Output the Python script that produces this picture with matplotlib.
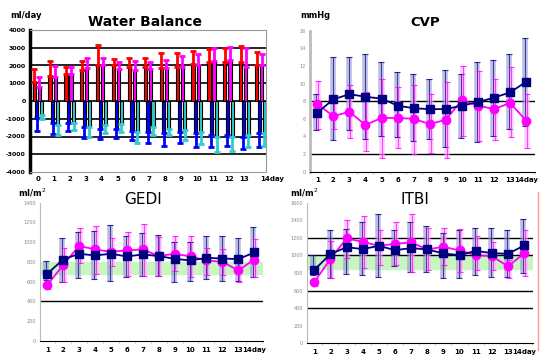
import matplotlib
matplotlib.use("Agg")
import matplotlib.pyplot as plt
import numpy as np
from matplotlib.lines import Line2D

# ---- data ----
wb_days = list(range(15))
wb_day_labels = [str(d) for d in range(14)] + ["14day"]
intake_a = [1090, 1420, 1530, 1750, 2040, 2000, 1920, 1890, 1850, 1940, 2080, 2210, 2210, 2170, 2020]
intake_a_err = [700, 830, 360, 500, 1110, 340, 530, 560, 850, 760, 710, 710, 770, 910, 730]
intake_b = [770, 1360, 1500, 1850, 2040, 1810, 1740, 1830, 1850, 1910, 2040, 2260, 2320, 1940, 2000]
intake_b_err = [610, 600, 390, 600, 410, 360, 490, 380, 470, 600, 600, 700, 700, 1020, 640]
output_a = [-980, -1260, -1230, -1450, -1550, -1550, -1680, -1740, -1830, -1740, -1830, -1920, -1920, -2020, -1830]
output_a_err = [700, 610, 470, 630, 580, 530, 510, 620, 700, 620, 750, 660, 610, 700, 750]
output_b = [-790, -1360, -1230, -1450, -1360, -1300, -1740, -1490, -1550, -1640, -1740, -2020, -2020, -1920, -1830]
output_b_err = [230, 560, 410, 570, 470, 440, 620, 430, 370, 570, 690, 870, 810, 660, 720]

days = list(range(1, 15))
day_labels = [str(d) for d in range(1, 14)] + ["14day"]

cvp_a = [6.7, 8.2, 8.8, 8.5, 8.3, 7.5, 7.2, 7.1, 7.1, 7.5, 7.9, 8.4, 9.0, 10.2]
cvp_a_hi = [8.8, 13.0, 13.0, 13.4, 12.5, 11.3, 11.1, 10.5, 11.5, 11.1, 12.4, 12.7, 13.4, 15.2]
cvp_a_lo = [4.7, 3.6, 4.7, 3.7, 4.1, 3.9, 3.5, 3.7, 2.8, 3.8, 3.4, 4.1, 4.8, 5.2]
cvp_b = [7.7, 6.3, 6.8, 5.3, 6.1, 6.1, 6.0, 5.4, 5.9, 8.1, 7.5, 7.1, 7.8, 5.8]
cvp_b_hi = [10.3, 7.8, 9.8, 9.0, 10.5, 9.6, 9.8, 8.8, 10.2, 12.0, 11.4, 10.5, 11.9, 8.8]
cvp_b_lo = [4.9, 4.8, 3.8, 2.3, 1.5, 2.7, 2.0, 2.1, 1.5, 4.1, 3.5, 3.6, 3.9, 2.7]

gedi_a = [680, 825, 883, 866, 883, 856, 876, 860, 832, 815, 842, 835, 829, 896]
gedi_a_hi = [809, 1038, 1100, 1113, 1174, 1063, 1095, 1069, 1000, 1000, 1063, 1063, 1038, 1154]
gedi_a_lo = [620, 599, 640, 629, 606, 647, 657, 663, 596, 606, 632, 612, 612, 647]
gedi_b = [565, 768, 964, 927, 903, 917, 927, 860, 883, 856, 815, 802, 714, 825]
gedi_b_hi = [600, 940, 1140, 1164, 1042, 1106, 1180, 1055, 1063, 1063, 937, 927, 790, 1035]
gedi_b_lo = [531, 596, 790, 683, 758, 657, 657, 663, 707, 647, 673, 673, 596, 647]

itbi_a = [836, 1015, 1094, 1072, 1109, 1060, 1083, 1068, 1023, 1003, 1052, 1026, 1018, 1113]
itbi_a_hi = [1000, 1291, 1300, 1375, 1469, 1290, 1386, 1330, 1250, 1291, 1310, 1310, 1291, 1420]
itbi_a_lo = [780, 740, 791, 773, 753, 880, 807, 807, 742, 742, 780, 757, 757, 800]
itbi_b = [697, 961, 1193, 1155, 1109, 1132, 1148, 1068, 1098, 1057, 1003, 992, 875, 1023]
itbi_b_hi = [740, 1166, 1404, 1443, 1290, 1375, 1469, 1310, 1310, 1297, 1216, 1151, 950, 1284]
itbi_b_lo = [650, 742, 969, 856, 886, 886, 807, 830, 886, 807, 835, 830, 742, 761]

NAVY = "#000080"
MAG = "#FF00FF"

fig = plt.figure(figsize=(5.44, 3.58), dpi=100)


def fig_rect(left, top, right, bottom):
    W, H = 544, 358
    return [left / W, 1 - bottom / H, (right - left) / W, (bottom - top) / H]


# ---- Water Balance ----
ax = fig.add_axes(fig_rect(30, 30, 266, 172))
x = np.array(wb_days)
w = 0.2
series = [
    (intake_a, intake_a_err, "#FF0000", -0.24, 1),
    (output_a, output_a_err, "#0000FF", -0.08, -1),
    (intake_b, intake_b_err, "#FF00FF", 0.08, 1),
    (output_b, output_b_err, "#33CCCC", 0.24, -1),
]
for vals, err, col, off, sign in series:
    ax.bar(x + off, vals, width=w, color=col, edgecolor="black", linewidth=0.8, zorder=3)
    if sign > 0:
        yerr = [np.zeros(len(err)), err]
    else:
        yerr = [err, np.zeros(len(err))]
    ax.errorbar(x + off, vals, yerr=yerr, fmt="none", ecolor=col, elinewidth=2,
                capsize=2.5, capthick=2, zorder=4)
ax.set_xlim(-0.5, 14.35)
ax.set_ylim(-4000, 4000)
ax.set_yticks(range(-4000, 4001, 1000))
ax.set_yticklabels([str(v) for v in range(-4000, 4001, 1000)], fontsize=4.5, fontweight="bold")
for v in range(-3000, 4000, 1000):
    ax.axhline(v, color="black", lw=1.2, zorder=1)
ax.set_xticks(x)
ax.set_xticklabels(wb_day_labels, fontsize=5, fontweight="bold")
ax.get_xticklabels()[-1].set_horizontalalignment("left")
ax.get_xticklabels()[-1].set_x(13.85)
ax.tick_params(axis="x", length=0, pad=3)
ax.tick_params(axis="y", length=0, pad=3)
ax.spines["left"].set_linewidth(2.5)
for s in ["top", "right", "bottom"]:
    ax.spines[s].set_color("#999999")
fig.text(10 / 544, 1 - 16 / 358, "ml/day", fontsize=6, fontweight="bold", va="center")
fig.text(145 / 544, 1 - 22 / 358, "Water Balance", fontsize=10, fontweight="bold",
         ha="center", va="center")


def line_panel(rect, a, a_hi, a_lo, b, b_hi, b_lo, ymax, ystep, hlines, band=None):
    ax = fig.add_axes(rect)
    xs = np.array(days)
    if band is not None:
        ax.axhspan(band[0], band[1], color="#C8F5C0", zorder=1)
    for h in hlines:
        ax.axhline(h, color="black", lw=1.0, zorder=1.5)
    for vals, hi, lo, col, pale, off in [(a, a_hi, a_lo, NAVY, "#8C8CD0", -0.05),
                                        (b, b_hi, b_lo, MAG, "#FFA8FF", 0.05)]:
        v = np.array(vals)
        yerr = [v - np.array(lo), np.array(hi) - v]
        ax.errorbar(xs + off, v, yerr=yerr, fmt="none", ecolor=pale, elinewidth=4,
                    alpha=0.6, capsize=0, zorder=2)
        ax.errorbar(xs + off, v, yerr=yerr, fmt="none", ecolor=col, elinewidth=0.6,
                    alpha=0.8, capsize=2, capthick=0.8, zorder=2.5)
    ax.plot(xs, a, color=NAVY, lw=1.3, marker="s", ms=6, zorder=4)
    ax.plot(xs, b, color=MAG, lw=1.3, marker="o", ms=6, zorder=3)
    ax.set_xlim(0.55, 14.55)
    ax.set_ylim(0, ymax)
    ticks = np.arange(0, ymax + 0.001, ystep)
    ax.set_yticks(ticks)
    ax.set_yticklabels([str(int(t)) for t in ticks], fontsize=3.5, color="#888888")
    ax.set_xticks(xs)
    ax.set_xticklabels(day_labels, fontsize=5, fontweight="bold")
    ax.set_xticks(xs + 0.5, minor=True)
    ax.tick_params(axis="x", which="major", length=0, pad=4)
    ax.tick_params(axis="x", which="minor", length=1.5, color="#BBBBBB")
    ax.tick_params(axis="y", length=0, pad=3)
    ax.spines["top"].set_visible(False)
    ax.spines["right"].set_visible(False)
    ax.spines["left"].set_color("#BBBBBB")
    ax.spines["bottom"].set_color("black")
    return ax


# ---- CVP ----
ax_cvp = line_panel(fig_rect(310, 30.7, 535, 171.7), cvp_a, cvp_a_hi, cvp_a_lo,
                    cvp_b, cvp_b_hi, cvp_b_lo, 16, 2, [2, 8])
ax_cvp.spines["left"].set_linewidth(2)
fig.text(300 / 544, 1 - 16 / 358, "mmHg", fontsize=6, fontweight="bold", va="center")
fig.text(425 / 544, 1 - 22 / 358, "CVP", fontsize=9.5, fontweight="bold", ha="center", va="center")

# ---- GEDI ----
ax_gedi = line_panel(fig_rect(40, 202.7, 263, 341), gedi_a, gedi_a_hi, gedi_a_lo,
                     gedi_b, gedi_b_hi, gedi_b_lo, 1400, 200, [400], band=(680, 800))
fig.text(18 / 544, 1 - 193 / 358, "ml/m$^2$", fontsize=6, fontweight="bold", va="center")
fig.text(143 / 544, 1 - 199 / 358, "GEDI", fontsize=11, ha="center", va="center")

# ---- ITBI ----
ax_itbi = line_panel(fig_rect(307, 202.7, 533, 343.3), itbi_a, itbi_a_hi, itbi_a_lo,
                     itbi_b, itbi_b_hi, itbi_b_lo, 1600, 200, [400, 600, 1000, 1200],
                     band=(850, 1000))
fig.text(290 / 544, 1 - 193 / 358, "ml/m$^2$", fontsize=6, fontweight="bold", va="center")
fig.text(415 / 544, 1 - 199 / 358, "ITBI", fontsize=11, ha="center", va="center")

# pink edge line at the right of the lower-right panel
fig.add_artist(Line2D([538 / 544, 538 / 544], [1 - 350 / 358, 1 - 192 / 358],
                      color="#FF9999", lw=1, transform=fig.transFigure))

fig.savefig("out.png", dpi=100)
